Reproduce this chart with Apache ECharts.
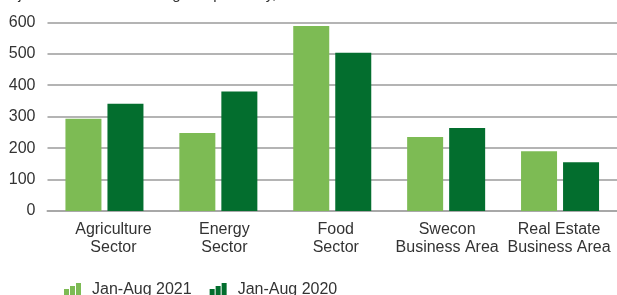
<!DOCTYPE html>
<html>
<head>
<meta charset="utf-8">
<script src="https://cdn.jsdelivr.net/npm/echarts@6/dist/echarts.min.js"></script>
<style>html,body{margin:0;padding:0;background:#fff}#c{width:617px;height:295px}</style>
</head>
<body>
<div id="c"></div>
<script>
const categories = ['Agriculture\nSector', 'Energy\nSector', 'Food\nSector', 'Swecon\nBusiness Area', 'Real Estate\nBusiness Area'];
const seriesNames = ['Jan-Aug 2021', 'Jan-Aug 2020'];
const values2021 = [293, 248, 588, 235, 190];
const values2020 = [341, 380, 503, 264, 155];
const yTicks = [0, 100, 200, 300, 400, 500, 600];
const titleText = 'Adjusted for items affecting comparability, MSEK';

const FONT = '"Liberation Sans", Arial, sans-serif';
const LIGHT = '#7dbb54';
const DARK = '#036e2e';
const iconPath = 'path://M0,6h5v8h-5z M6,3h5v11h-5z M12,0h5v14h-5z';
// small horizontal nudges of the category labels (styling only)
const labelPad = [[0, 0, 0, 18], [0, 0, 0, 12], [0, 0, 0, 7], [0, 0, 0, 2], [0, 2, 0, 0]];

const chart = echarts.init(document.getElementById('c'), null, {renderer: 'canvas'});
chart.setOption({
  animation: false,
  title: {
    text: titleText,
    left: 0,
    top: -13,
    padding: 0,
    textStyle: {fontFamily: FONT, fontSize: 15, fontWeight: 'normal', color: '#333'}
  },
  grid: {left: 47.5, width: 574, top: 22.3, height: 188.7, containLabel: false},
  legend: {
    data: seriesNames,
    left: 64,
    top: 282,
    itemWidth: 17,
    itemHeight: 14,
    itemGap: 18,
    padding: 0,
    icon: iconPath,
    textStyle: {fontFamily: FONT, fontSize: 16, color: '#333', padding: [0, 0, 0, 6]}
  },
  xAxis: {
    type: 'category',
    data: categories.map((c, i) => ({value: c, textStyle: {padding: labelPad[i]}})),
    axisLine: {lineStyle: {color: '#a8a8a8', width: 2}},
    axisTick: {show: false},
    axisLabel: {interval: 0, margin: 10, fontFamily: FONT, fontSize: 16, lineHeight: 18, color: '#333'}
  },
  yAxis: {
    type: 'value', min: yTicks[0], max: yTicks[yTicks.length - 1], interval: 100,
    axisLine: {show: false}, axisTick: {show: false},
    splitLine: {lineStyle: {color: '#b4b4b4', width: 2}},
    axisLabel: {margin: 12, fontFamily: FONT, fontSize: 16, color: '#333'}
  },
  series: [
    {name: seriesNames[0], type: 'bar', data: values2021, barWidth: 36, barGap: '16.7%', itemStyle: {color: LIGHT}},
    {name: seriesNames[1], type: 'bar', data: values2020, barWidth: 36, itemStyle: {color: DARK}}
  ]
});
</script>
</body>
</html>
